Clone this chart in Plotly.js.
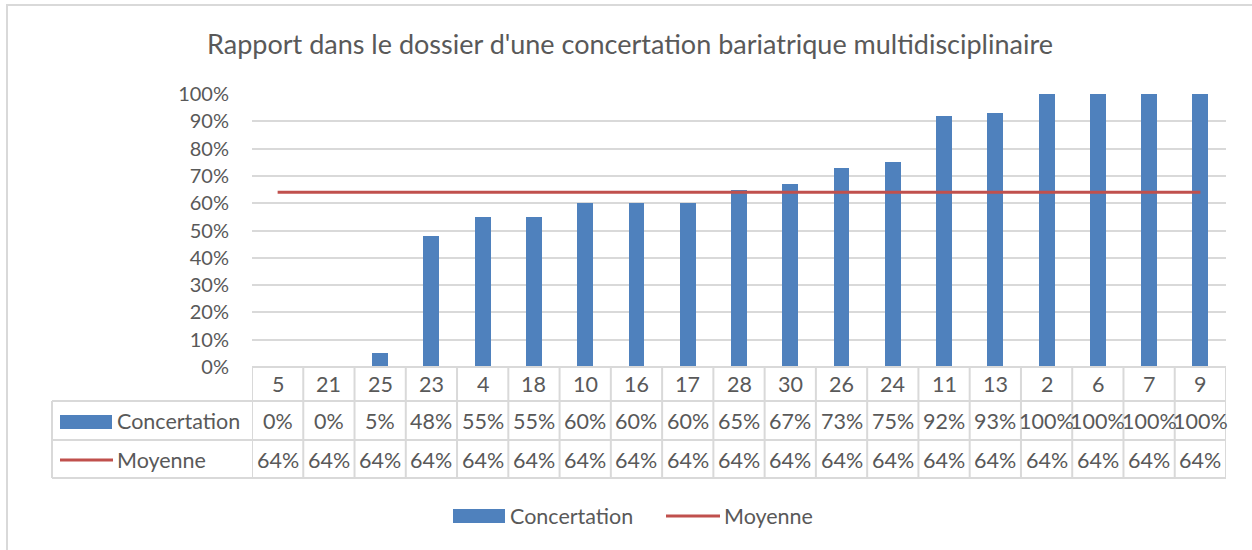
<!DOCTYPE html>
<html><head><meta charset="utf-8">
<script src="https://cdn.plot.ly/plotly-3.0.1.min.js"></script>
<style>html,body{margin:0;padding:0;background:#fff}#c{width:1252px;height:550px}</style>
</head><body><div id="c"></div>
<script>
const titleText = "Rapport dans le dossier d'une concertation bariatrique multidisciplinaire";
const categories = ['5','21','25','23','4','18','10','16','17','28','30','26','24','11','13','2','6','7','9'];
const concertation = [0,0,0.05,0.48,0.55,0.55,0.60,0.60,0.60,0.65,0.67,0.73,0.75,0.92,0.93,1,1,1,1];
const moyenne = [0.64,0.64,0.64,0.64,0.64,0.64,0.64,0.64,0.64,0.64,0.64,0.64,0.64,0.64,0.64,0.64,0.64,0.64,0.64];
const seriesNames = ['Concertation','Moyenne'];
const yTicks = [0,0.1,0.2,0.3,0.4,0.5,0.6,0.7,0.8,0.9,1];

const W=1252,H=550,L=252,R=26,T=94,B=183;
const PW=W-L-R, PH=H-T-B;
const px = x => (x-L)/PW;          // pixel x -> paper
const py = y => (H-B-y)/PH;        // pixel y -> paper
const txt = '#595959', grid = '#d9d9d9', barC = '#4F81BD', lineC = '#C0504D';
const FONT = 'Lato, "Liberation Sans", sans-serif';
const FS = 21.5;
const pct = v => Math.round(v*100)+'%';

const traces = [
  {type:'bar', x:categories, y:concertation, name:seriesNames[0], marker:{color:barC}, width:0.31, hoverinfo:'none'},
  {type:'scatter', mode:'lines', x:categories, y:moyenne, name:seriesNames[1], line:{color:lineC,width:3}, hoverinfo:'none'}
];

const shapes = [];
const annotations = [];
const ln = (xref,x0,x1,y0,y1,w) => shapes.push({type:'line',xref:xref,yref:'paper',x0:x0,x1:x1,y0:y0,y1:y1,line:{color:grid,width:w||2},layer:'above'});
// frame
shapes.push({type:'rect',xref:'paper',yref:'paper',x0:px(7),x1:px(1300),y0:py(5),y1:py(600),line:{color:grid,width:2},fillcolor:'rgba(0,0,0,0)'});
// table horizontal lines
[367,401,440,478].forEach((y,i)=>ln('paper', i===0?px(L):px(52), px(W-R), py(y), py(y)));
// left vertical
ln('paper', px(52), px(52), py(401), py(478));
// category boundaries
for(let k=0;k<=categories.length;k++){ ln('x', k-0.5, k-0.5, py(367), py(478)); }
// row values
categories.forEach((c,i)=>{
  annotations.push({xref:'x',yref:'paper',x:i,y:py(384),text:c,showarrow:false,font:{family:FONT,size:FS,color:txt},xanchor:'center',yanchor:'middle'});
  annotations.push({xref:'x',yref:'paper',x:i,y:py(421),text:pct(concertation[i]),showarrow:false,font:{family:FONT,size:FS,color:txt},xanchor:'center',yanchor:'middle'});
  annotations.push({xref:'x',yref:'paper',x:i,y:py(460),text:pct(moyenne[i]),showarrow:false,font:{family:FONT,size:FS,color:txt},xanchor:'center',yanchor:'middle'});
});
// row legend keys
shapes.push({type:'rect',xref:'paper',yref:'paper',x0:px(60),x1:px(112),y0:py(415),y1:py(429),fillcolor:barC,line:{width:0}});
shapes.push({type:'line',xref:'paper',yref:'paper',x0:px(60),x1:px(113),y0:py(460),y1:py(460),line:{color:lineC,width:3}});
annotations.push({xref:'paper',yref:'paper',x:px(115),y:py(421),text:seriesNames[0],showarrow:false,xanchor:'left',yanchor:'middle',font:{family:FONT,size:FS,color:txt}});
annotations.push({xref:'paper',yref:'paper',x:px(115),y:py(460),text:seriesNames[1],showarrow:false,xanchor:'left',yanchor:'middle',font:{family:FONT,size:FS,color:txt}});
// bottom legend
shapes.push({type:'rect',xref:'paper',yref:'paper',x0:px(453),x1:px(505),y0:py(509),y1:py(523),fillcolor:barC,line:{width:0}});
shapes.push({type:'line',xref:'paper',yref:'paper',x0:px(666),x1:px(720),y0:py(516),y1:py(516),line:{color:lineC,width:3}});
annotations.push({xref:'paper',yref:'paper',x:px(508),y:py(516),text:seriesNames[0],showarrow:false,xanchor:'left',yanchor:'middle',font:{family:FONT,size:FS,color:txt}});
annotations.push({xref:'paper',yref:'paper',x:px(722),y:py(516),text:seriesNames[1],showarrow:false,xanchor:'left',yanchor:'middle',font:{family:FONT,size:FS,color:txt}});

const layout = {
  width:W,height:H,margin:{l:L,r:R,t:T,b:B},
  paper_bgcolor:'#fff',plot_bgcolor:'#fff',showlegend:false,
  font:{family:FONT,color:txt},
  title:{text:titleText,font:{family:FONT,size:27,color:txt},xref:'container',x:630/W,xanchor:'center',yref:'container',y:1-45/H,yanchor:'middle'},
  xaxis:{type:'category',categoryarray:categories,range:[-0.5,categories.length-0.5],showticklabels:false,showgrid:false,zeroline:false,showline:false,ticks:''},
  yaxis:{range:[0,1],tickvals:yTicks,ticktext:yTicks.map(pct),showgrid:true,gridcolor:grid,gridwidth:2,zeroline:false,showline:false,ticks:'',
         tickfont:{family:FONT,size:20,color:txt},ticklabelstandoff:22,fixedrange:true},
  shapes:shapes,annotations:annotations,bargap:0
};
Plotly.newPlot('c',traces,layout,{staticPlot:true});
</script></body></html>
